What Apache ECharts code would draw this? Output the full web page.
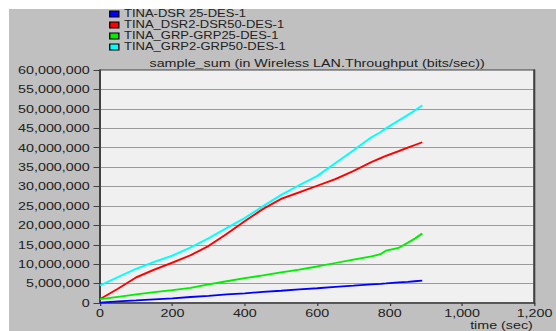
<!DOCTYPE html>
<html>
<head>
<meta charset="utf-8">
<script src="https://cdn.jsdelivr.net/npm/echarts@6/dist/echarts.min.js"></script>
<style>
  html, body { margin: 0; padding: 0; background: #ffffff; width: 556px; height: 331px; overflow: hidden; }
  #wrap { position: absolute; left: 9px; top: 9px; width: 421px; height: 322px; transform: scaleX(1.3); transform-origin: 0 0; }
  #chart { width: 421px; height: 322px; }
</style>
</head>
<body>
<div id="wrap"><div id="chart"></div></div>
<script>
// ---- data (time in sec, throughput in bits/sec) ----
const times = [0, 50, 100, 150, 200, 250, 300, 350, 400, 450, 500, 550, 600, 650, 700, 750, 775, 790, 825, 850, 870, 890];
const seriesNames = ["TINA-DSR 25-DES-1", "TINA_DSR2-DSR50-DES-1", "TINA_GRP-GRP25-DES-1", "TINA_GRP2-GRP50-DES-1"];
const dsr25 = [100000, 400000, 650000, 950000, 1200000, 1550000, 1850000, 2200000, 2500000, 2850000, 3150000, 3500000, 3800000, 4150000, 4450000, 4800000, 4950000, 5050000, 5300000, 5450000, 5600000, 5750000];
const dsr50 = [1000000, 3700000, 6600000, 8600000, 10400000, 12300000, 14700000, 17800000, 21100000, 24200000, 26800000, 28500000, 30200000, 31900000, 34000000, 36300000, 37300000, 37900000, 39100000, 40000000, 40700000, 41400000];
const grp25 = [1000000, 1600000, 2200000, 2800000, 3300000, 3900000, 4800000, 5600000, 6400000, 7100000, 7900000, 8600000, 9400000, 10300000, 11200000, 12000000, 12600000, 13500000, 14200000, 15500000, 16600000, 17900000];
const grp50 = [4500000, 6700000, 8800000, 10600000, 12200000, 14300000, 16700000, 19300000, 21900000, 24900000, 27800000, 30300000, 32700000, 36000000, 39300000, 42700000, 44000000, 45000000, 47000000, 48400000, 49600000, 50900000];
const seriesColors = ["#0000ff", "#ff0000", "#00ee00", "#00ffff"];
const titleText = "sample_sum (in Wireless LAN.Throughput (bits/sec))";
const xAxisName = "time (sec)";

const allValues = [dsr25, dsr50, grp25, grp50];
const FONT = "'Liberation Sans', Arial, sans-serif";
const fmt = v => Number(v).toLocaleString('en-US');

const chart = echarts.init(document.getElementById('chart'), null, { renderer: 'svg' });
chart.setOption({
  backgroundColor: '#c0c0c0',
  animation: false,
  title: {
    text: titleText,
    left: 237, top: 49, textAlign: 'center', padding: 0,
    textStyle: { fontFamily: FONT, fontSize: 11, fontWeight: 'normal', color: '#222' }
  },
  legend: {
    orient: 'vertical', left: 77, top: 0, padding: 0,
    itemWidth: 7, itemHeight: 6, itemGap: 1, icon: 'rect',
    itemStyle: { borderColor: '#000', borderWidth: 1 },
    textStyle: { fontFamily: FONT, fontSize: 10, color: '#222', lineHeight: 10, padding: [0, 0, 0, -1] },
    data: seriesNames
  },
  grid: {
    left: 70, right: 16, top: 61, bottom: 28,
    show: true, backgroundColor: '#f0f0f0', borderColor: '#404040', borderWidth: 1
  },
  xAxis: {
    type: 'value', min: 0, max: 1200, interval: 200,
    axisLine: { lineStyle: { color: '#404040', width: 1.5 } },
    axisTick: { show: true, length: 3, lineStyle: { color: '#404040' } },
    axisLabel: { margin: 5, fontFamily: FONT, fontSize: 11, color: '#222', formatter: fmt },
    splitLine: { show: false }
  },
  yAxis: [{
    type: 'value', min: 0, max: 60000000, interval: 5000000,
    axisLine: { show: true, lineStyle: { color: '#404040', width: 1.5 } },
    axisTick: { show: true, length: 5, lineStyle: { color: '#404040' } },
    axisLabel: { margin: 8, fontFamily: FONT, fontSize: 11, color: '#222', formatter: fmt },
    splitLine: { show: true, lineStyle: { color: '#9a9a9a', width: 1 } }
  }, {
    type: 'value', position: 'right', min: 0, max: 60000000, interval: 5000000,
    axisLine: { show: true, lineStyle: { color: '#404040', width: 1.5 } },
    axisTick: { show: false }, axisLabel: { show: false }, splitLine: { show: false }
  }],
  graphic: [{
    type: 'text', right: 18, bottom: 0,
    style: { text: xAxisName, fontFamily: FONT, fontSize: 11, fill: '#222' }
  }],
  series: allValues.map((vals, k) => ({
    name: seriesNames[k],
    type: 'line',
    showSymbol: false,
    symbol: 'none',
    color: seriesColors[k],
    lineStyle: { width: 1.8, color: seriesColors[k] },
    data: times.map((t, i) => [t, vals[i]])
  }))
});
</script>
</body>
</html>
